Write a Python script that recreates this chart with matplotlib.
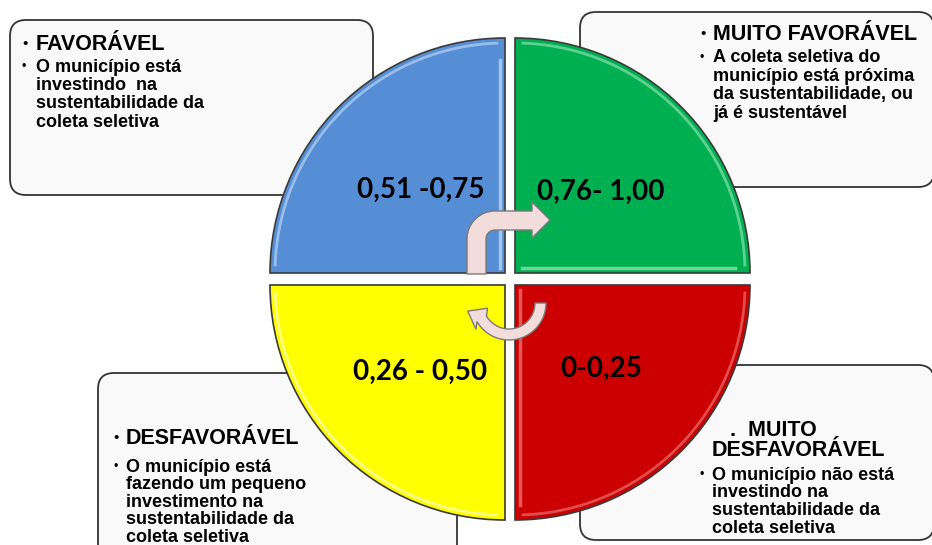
import numpy as np
import matplotlib
matplotlib.use("Agg")
import matplotlib.pyplot as plt
from matplotlib.patches import Wedge, FancyBboxPatch, Polygon

W, H = 932, 545

# ---- content ----
ranges = ["0,51 -0,75", "0,76- 1,00", "0,26 - 0,50", "0-0,25"]
quad_colors = ["#558ed5", "#00b050", "#ffff00", "#cc0000"]
headers = ["FAVORÁVEL", "MUITO FAVORÁVEL", "DESFAVORÁVEL", "MUITO\nDESFAVORÁVEL"]
bodies = [
    ["O município está", "investindo  na", "sustentabilidade da", "coleta seletiva"],
    ["A coleta seletiva do", "município está próxima", "da sustentabilidade, ou", "já é sustentável"],
    ["O município está", "fazendo um pequeno", "investimento na", "sustentabilidade da", "coleta seletiva"],
    ["O município não está", "investindo na", "sustentabilidade da", "coleta seletiva"],
]

fig = plt.figure(figsize=(W / 100, H / 100), dpi=100)
ax = fig.add_axes([0, 0, 1, 1])
ax.set_xlim(0, W)
ax.set_ylim(0, H)
ax.axis("off")


def Y(y):
    return H - y


FONT = ["Liberation Sans", "DejaVu Sans"]
NUMFONT = ["Lato", "DejaVu Sans"]

# ---- boxes (x0, y0_top, x1, y1_bottom) in pixel coords ----
boxes = [(10, 20, 373, 195), (580, 12, 934, 187), (98, 373, 457, 560), (580, 365, 934, 540)]
for (x0, y0, x1, y1) in boxes:
    p = FancyBboxPatch((x0, Y(y1)), x1 - x0, y1 - y0,
                       boxstyle="round,pad=0,rounding_size=16",
                       facecolor="#f9f9f9", edgecolor="#333333", lw=1.3, zorder=1)
    ax.add_patch(p)

# ---- quadrants ----
R = 235
centers = [(505, 273), (515, 273), (505, 285), (515, 285)]
angles = [(90, 180), (0, 90), (180, 270), (270, 360)]
highlight = ["#b5d2f4", "#86e0b0", "#ffffc0", "#e87070"]
for (cx, cy), (t1, t2), col, hl in zip(centers, angles, quad_colors, highlight):
    w = Wedge((cx, Y(cy)), R, t1, t2, facecolor=col, edgecolor="#3a3a3a", lw=1.2, zorder=3)
    ax.add_patch(w)
    # bevel highlight along the arc
    th = np.linspace(np.radians(t1 + 2), np.radians(t2 - 2), 80)
    ax.plot(cx + (R - 5) * np.cos(th), Y(cy) + (R - 5) * np.sin(th), color=hl, lw=2, alpha=0.7, zorder=4)

# bevel highlights along straight inner edges
ax.plot([500, 500], [Y(268), Y(60)], color="#b5d2f4", lw=2.5, alpha=0.8, zorder=4)
ax.plot([522, 735], [Y(268), Y(268)], color="#86e0b0", lw=2.5, alpha=0.8, zorder=4)
ax.plot([520, 520], [Y(290), Y(505)], color="#e87070", lw=2.5, alpha=0.8, zorder=4)

# ---- range labels ----
label_pos = [(421, 190), (601, 192), (420, 372), (601, 369)]
for (x, y), t in zip(label_pos, ranges):
    ax.text(x, Y(y), t, ha="center", va="center", fontsize=20, fontweight="bold",
            family=NUMFONT, color="black", zorder=6)

# ---- text in boxes ----
HS, BS, LS = 15.5, 13, 18.5


def block(xb, xt, yh, header, body, yb0, ls=LS):
    ax.text(xb, Y(yh), "•", fontsize=11, family=FONT, va="center", ha="left", zorder=7)
    ax.text(xt, Y(yh), header, fontsize=HS, family=FONT, va="center", ha="left", zorder=7,
            fontweight="bold")
    ax.text(xb, Y(yb0), "•", fontsize=9, family=FONT, va="center", ha="left", zorder=7)
    for i, line in enumerate(body):
        ax.text(xt, Y(yb0 + i * ls), line, fontsize=BS, family=FONT, fontweight="bold",
                va="center", ha="left", zorder=7)


block(22, 36, 44, headers[0], bodies[0], 67)
block(700, 713, 34, headers[1], bodies[1], 58)
block(113, 126, 438, headers[2], bodies[2], 467, ls=17.6)
# bottom-right: special header with leading period
ax.text(730, Y(430), ".  " + headers[3].split("\n")[0], fontsize=HS, family=FONT, fontweight="bold",
        va="center", ha="left", zorder=7)
ax.text(712, Y(451), headers[3].split("\n")[1], fontsize=HS, family=FONT, fontweight="bold",
        va="center", ha="left", zorder=7)
ax.text(700, Y(475), "•", fontsize=9, family=FONT, va="center", ha="left", zorder=7)
for i, line in enumerate(bodies[3]):
    ax.text(712, Y(475 + i * 17.8), line, fontsize=BS, family=FONT, fontweight="bold",
            va="center", ha="left", zorder=7)

# ---- bent arrow (up then right) ----
xl, xr, ybot = 467, 486, 274
yt, yb = 211, 230
r_in = 9
r_out = r_in + (xr - xl)
pts = [(xl, ybot)]
cxo, cyo = xl + r_out, yt + r_out
for a in np.linspace(np.pi, 1.5 * np.pi, 20):
    pts.append((cxo + r_out * np.cos(a), cyo + r_out * np.sin(a)))
pts += [(532, yt), (532, 202), (550, 220), (532, 238), (532, yb)]
cxi, cyi = xr + r_in, yb + r_in
for a in np.linspace(1.5 * np.pi, np.pi, 20):
    pts.append((cxi + r_in * np.cos(a), cyi + r_in * np.sin(a)))
pts.append((xr, ybot))
ax.add_patch(Polygon([(x, Y(y)) for x, y in pts], closed=True, facecolor="#f2dcdc",
                     edgecolor="#7a7a7a", lw=1.0, zorder=8))

# ---- curved arrow (clockwise, ending at upper left) ----
ccx, ccy = 509, 303
ro, ri = 37, 26
a1 = np.radians(150)
aa = np.linspace(0, a1, 40)
outer = [(ccx + ro * np.cos(a), ccy + ro * np.sin(a)) for a in aa]
inner = [(ccx + ri * np.cos(a), ccy + ri * np.sin(a)) for a in aa[::-1]]
rm = (ro + ri) / 2
bx, by = ccx + rm * np.cos(a1), ccy + rm * np.sin(a1)
d = np.array([-0.88, -0.48])
d = d / np.linalg.norm(d)
n = np.array([-d[1], d[0]])
head = [(bx - n[0] * 12, by - n[1] * 12), (bx + d[0] * 16, by + d[1] * 16), (bx + n[0] * 12, by + n[1] * 12)]
pts2 = outer + head + inner
ax.add_patch(Polygon([(x, Y(y)) for x, y in pts2], closed=True, facecolor="#f2dcdc",
                     edgecolor="#7a7a7a", lw=1.0, zorder=8))

fig.savefig("out.png", dpi=100)
